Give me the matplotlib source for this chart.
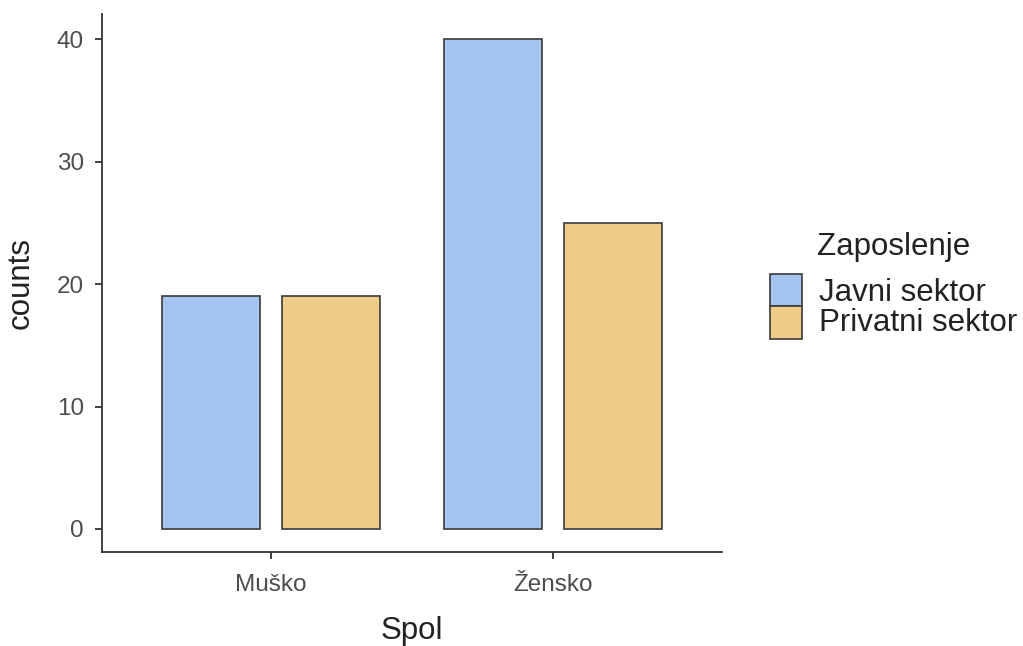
import matplotlib.pyplot as plt
from matplotlib.patches import Rectangle
import numpy as np

spol = ['Muško', 'Žensko']
sektori = ['Javni sektor', 'Privatni sektor']
javni = [19, 40]
privatni = [19, 25]
boje = ['#A6C4F2', '#F0CC8B']

plt.rcParams['font.family'] = ['Liberation Sans', 'DejaVu Sans']

W, H = 1023, 646
fig = plt.figure(figsize=(W / 100, H / 100), dpi=100)
ax = fig.add_axes([0.0997, 0.1455, 0.606, 0.8325])

x = np.arange(len(spol))
w = 0.35
off = 0.2128
ax.bar(x - off, javni, w, color=boje[0], edgecolor='#3a3a3a', linewidth=1.2)
ax.bar(x + off, privatni, w, color=boje[1], edgecolor='#3a3a3a', linewidth=1.2)

ax.set_xlim(-0.6, 1.6)
ax.set_ylim(-1.88, 42.04)
ax.set_yticks([0, 10, 20, 30, 40])
ax.set_xticks(x)
ax.set_xticklabels(spol)

for s in ['top', 'right']:
    ax.spines[s].set_visible(False)
for s in ['left', 'bottom']:
    ax.spines[s].set_color('#333333')
    ax.spines[s].set_linewidth(1.3)
ax.tick_params(axis='both', length=5, width=1.3, color='#333333',
               labelcolor='#4D4D4D', labelsize=17.5)
ax.tick_params(axis='x', pad=10.5)
ax.tick_params(axis='y', pad=8)

ax.set_xlabel('Spol', fontsize=22.5, color='#222222', labelpad=14.5)
ax.set_ylabel('counts', fontsize=22.5, color='#222222', labelpad=15)

# legenda (ggplot stil)
fig.text(817 / W, 1 - 255 / H, 'Zaposlenje', fontsize=22.5, color='#222222',
         ha='left', va='baseline')
for i, (lab, c) in enumerate(zip(sektori, boje)):
    top = 274 + i * 32.5
    fig.patches.append(Rectangle((770 / W, 1 - (top + 32.5) / H), 32 / W, 32.5 / H,
                                 transform=fig.transFigure, facecolor=c,
                                 edgecolor='#3a3a3a', linewidth=1.2))
    fig.text(819 / W, 1 - (301 + i * 30) / H, lab, fontsize=22.5, color='#222222',
             ha='left', va='baseline')

fig.savefig('out.png', dpi=100)
